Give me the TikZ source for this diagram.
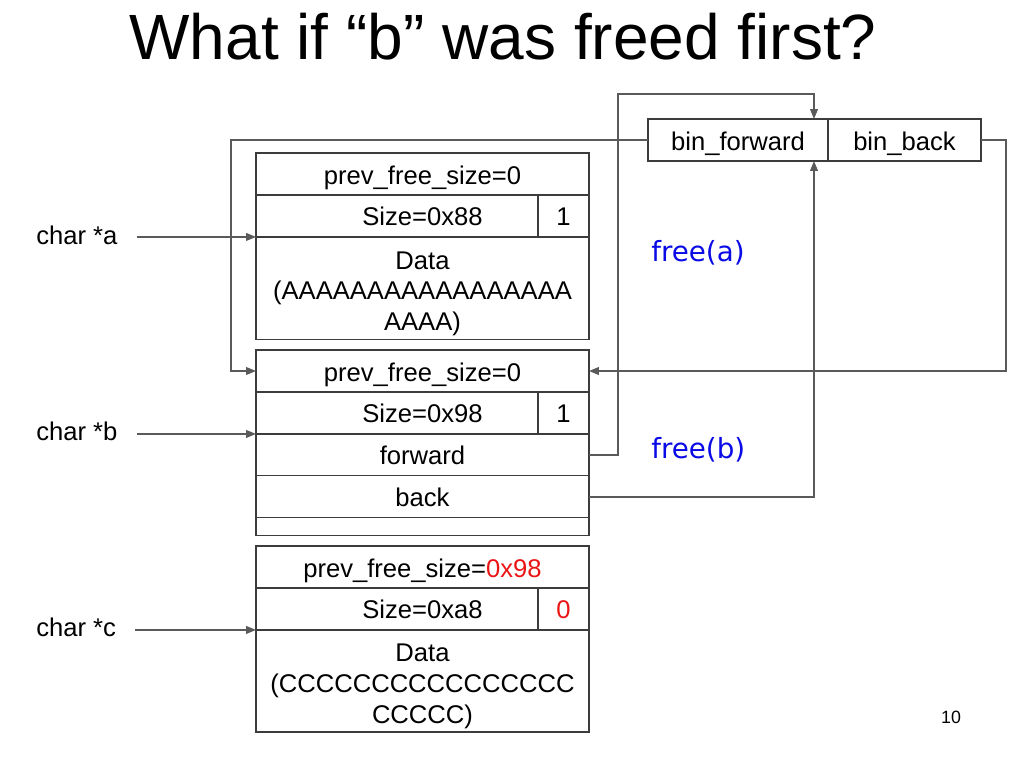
\documentclass[tikz,border=0pt]{standalone}
\usepackage{fontspec}
\setmainfont{Liberation Sans}
\newfontfamily\handfont{DejaVu Sans}
\usetikzlibrary{arrows.meta,positioning}
\definecolor{boxline}{RGB}{60,60,60}
\definecolor{linkline}{RGB}{90,90,90}
\definecolor{freeblue}{RGB}{10,10,230}
\definecolor{newred}{RGB}{235,20,20}
\newcommand{\toppad}{\rule{0pt}{20pt}}
\tikzset{
 box/.style={rectangle,draw=boxline,line width=0.8pt,minimum width=234.1pt,minimum height=29.5pt,inner sep=0pt,outer sep=0pt,align=center,font=\fontsize{18}{21.5}\selectfont},
 cell/.style={box,text height=17pt,text depth=2.9pt},
 datacell/.style={box,minimum height=72.2pt},
 bitcell/.style={cell,minimum width=35.9pt,anchor=east},
 bincell/.style={cell,minimum width=126.5pt},
 ptr/.style={font=\fontsize{18}{21.5}\selectfont,inner sep=0pt,anchor=west},
 link/.style={-{Triangle[length=7pt,width=5.5pt]},line width=0.9pt,draw=linkline},
 note/.style={font=\handfont\fontsize{19.5}{22}\selectfont,text=freeblue,anchor=west,inner sep=0pt}}
\begin{document}
\begin{tikzpicture}[x=0.703pt,y=-0.703pt]
\useasboundingbox (0,0) rectangle (1024,768);
\node[font=\fontsize{45}{50}\selectfont] (title) at (503,37) {What if “b” was freed first?};
% bin list head
\node[bincell] (binf) at (738,140) {bin\_forward};
\node[cell,minimum width=107.6pt,right=0pt of binf] (binb) {bin\_back};
% chunk a
\node[cell] (pfs_a) at (422.5,174) {prev\_free\_size=0};
\node[cell,below=0pt of pfs_a] (size_a) {Size=0x88};
\node[bitcell] (bit_a) at (size_a.east) {1};
\node[datacell,below=0pt of size_a] (data_a) {\toppad Data\\(AAAAAAAAAAAAAAAAA\\AAAA)};
% chunk b
\node[cell] (pfs_b) at (422.5,371) {prev\_free\_size=0};
\node[cell,below=0pt of pfs_b] (size_b) {Size=0x98};
\node[bitcell] (bit_b) at (size_b.east) {1};
\node[cell,below=0pt of size_b] (fwd_b) {forward};
\node[cell,below=0pt of fwd_b] (back_b) {back};
\node[box,minimum height=12.6pt,below=0pt of back_b] (pad_b) {};
% chunk c
\node[cell] (pfs_c) at (422.5,567) {prev\_free\_size=\textcolor{newred}{0x98}};
\node[cell,below=0pt of pfs_c] (size_c) {Size=0xa8};
\node[bitcell,text=newred] (bit_c) at (size_c.east) {0};
\node[datacell,minimum height=71.7pt,below=0pt of size_c] (data_c) {\toppad Data\\(CCCCCCCCCCCCCCCC\\CCCCC)};
% pointers
\node[ptr] (pa) at (36,235) {char *a};
\node[ptr] (pb) at (36,431) {char *b};
\node[ptr] (pc) at (36,627) {char *c};
\draw[link,shorten <=13.4pt] (pa.east |- data_a.north west) -- (data_a.north west);
\draw[link,shorten <=13.4pt] (pb.east |- fwd_b.north west) -- (fwd_b.north west);
\draw[link,shorten <=13.4pt] (pc.east |- data_c.north west) -- (data_c.north west);
\node[note] (freea) at (651,253) {free(a)};
\node[note] (freeb) at (651,450) {free(b)};
% free list links
\coordinate (bintop) at (814,94);
\draw[link] (binf.west) -- ++(-417,0) |- (pfs_b.west);
\draw[link] (binb.east) -- ++(25,0) |- (pfs_b.east);
\draw[link] (fwd_b.east) -- ++(29,0) |- (bintop) -- (bintop |- binf.north);
\draw[link] (back_b.east) -| (bintop |- binf.south);
\node[font=\fontsize{12.5}{14}\selectfont] (pageno) at (951,717) {10};
\end{tikzpicture}
\end{document}
